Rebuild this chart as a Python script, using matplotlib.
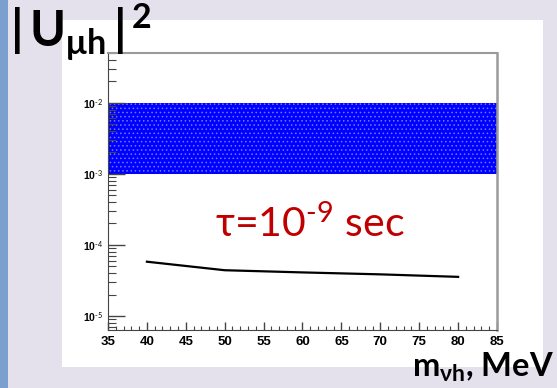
import math
import matplotlib
matplotlib.use("Agg")
import matplotlib.pyplot as plt
import matplotlib.ticker as mticker
from matplotlib.patches import Rectangle

# data
mass = [40, 50, 60, 70, 80]
mixing = [5.8e-5, 4.4e-5, 4.1e-5, 3.85e-5, 3.55e-5]
band_x = [35, 85]
band_low = 1e-3
band_high = 1e-2
x_ticks = [35, 40, 45, 50, 55, 60, 65, 70, 75, 80, 85]

plt.rcParams['mathtext.fontset'] = 'custom'
plt.rcParams['mathtext.rm'] = 'Lato'
plt.rcParams['mathtext.bf'] = 'Lato:bold'
plt.rcParams['mathtext.it'] = 'Lato'
plt.rcParams['hatch.linewidth'] = 0.6

fig = plt.figure(figsize=(5.57, 3.88), dpi=100)
fig.patch.set_facecolor('#e4e0ec')

# slide decorations: blue stripe and white panel
fig.patches.append(Rectangle((0, 0), 8 / 557, 1, transform=fig.transFigure,
                             facecolor='#7ba0cf', edgecolor='none', zorder=-5))
fig.patches.append(Rectangle((62 / 557, 1 - 367 / 388), 481 / 557, 347 / 388,
                             transform=fig.transFigure, facecolor='white',
                             edgecolor='none', zorder=-5))

ax = fig.add_axes([108 / 557, 1 - 330 / 388, 389 / 557, 277 / 388])
ax.set_facecolor('white')

# allowed region
ax.fill_between(band_x, band_low, band_high, facecolor='#0000ff',
                edgecolor='#6f78ff', hatch='....', linewidth=0)

ax.plot(mass, mixing, color='black', linewidth=1.6)

ax.set_yscale('log')
ax.set_xlim(35, 85)
ax.set_ylim(6.35e-6, 0.05)


def decade_label(v, pos):
    # ROOT style labels with a short hyphen in the exponent
    exp = int(round(math.log10(v)))
    return r'10$^{\text{%d}}$' % exp


ax.set_xticks(x_ticks)
ax.xaxis.set_minor_locator(mticker.MultipleLocator(1))
ax.yaxis.set_major_locator(mticker.LogLocator(base=10))
ax.yaxis.set_major_formatter(mticker.FuncFormatter(decade_label))
ax.yaxis.set_minor_locator(mticker.LogLocator(base=10, subs=range(2, 10)))
ax.yaxis.set_minor_formatter(mticker.NullFormatter())

ax.tick_params(axis='x', which='major', direction='in', length=6, width=1,
               color='#444444', labelsize=9.5, pad=4)
ax.tick_params(axis='x', which='minor', direction='in', length=3, width=0.8,
               color='#444444')
ax.tick_params(axis='y', which='major', direction='in', length=12, width=1,
               color='#444444', labelsize=7.5, pad=3.5)
ax.tick_params(axis='y', which='minor', direction='in', length=6, width=0.8,
               color='#444444')
for lab in ax.get_xticklabels() + ax.get_yticklabels():
    lab.set_fontweight('bold')
    lab.set_family('Liberation Sans')

ax.spines['left'].set_color('#444444')
ax.spines['bottom'].set_color('#444444')
ax.spines['top'].set_color('#9a9a9a')
ax.spines['right'].set_color('#9a9a9a')
ax.spines['top'].set_linewidth(1.5)
ax.spines['right'].set_linewidth(1.8)

ax.text(0.519, 0.336, r'τ=10$^{\text{-9}}$ sec', transform=ax.transAxes,
        ha='center', va='baseline', color='#c00000', fontsize=29.5,
        family='Lato')

fig.text(10 / 557, 1 - 47 / 388, r'$\mathbf{|\,U_{μh}\,|^{\,2}}$',
         ha='left', va='baseline', fontsize=35, color='black')
fig.text(412 / 557, 1 - 377 / 388, r'$\mathbf{m_{νh}}$, MeV',
         ha='left', va='baseline', fontsize=23.5, color='black',
         family='Lato', fontweight='bold')

fig.savefig('out.png', dpi=100, facecolor=fig.get_facecolor())
